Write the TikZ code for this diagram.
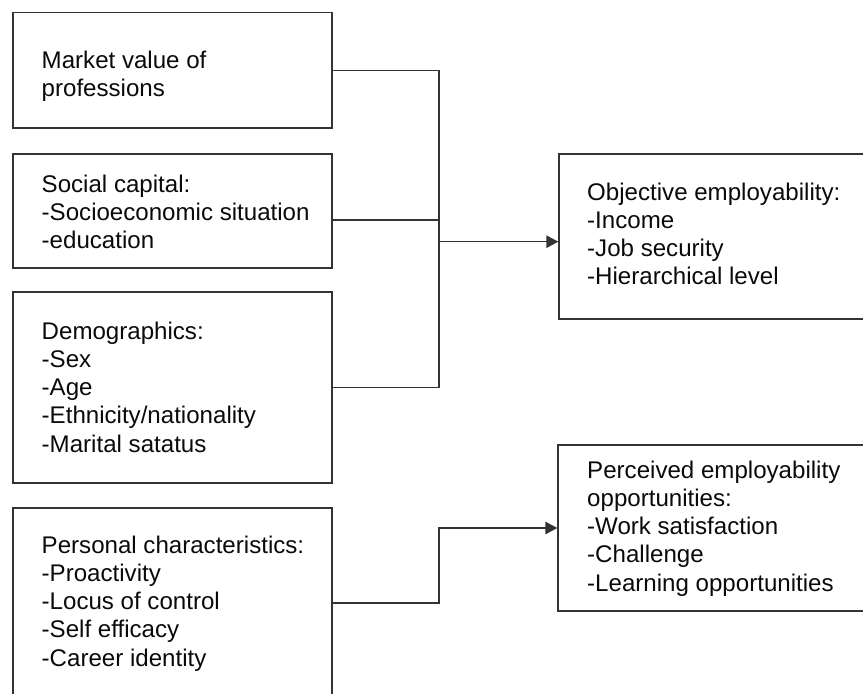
\documentclass[tikz,border=0pt]{standalone}
\usepackage{fontspec}
\setmainfont{Liberation Sans}
\usetikzlibrary{arrows.meta,calc}
\definecolor{linec}{HTML}{333333}
\definecolor{textc}{HTML}{0A0A0A}
\begin{document}
\begin{tikzpicture}[x=1pt,y=-1pt,
  box/.style={draw=linec,line width=1.4pt,rectangle,inner sep=0pt},
  txt/.style={anchor=west,align=left,inner sep=0pt,text=textc,
    font=\fontsize{24.1pt}{28.2pt}\selectfont},
  conn/.style={draw=linec,line width=1.4pt},
  arr/.style={conn,-{Triangle[length=12pt,width=12.5pt]}}]
\useasboundingbox (0,0) rectangle (863,694);
\clip (0,0) rectangle (863,694);
% boxes
\node[box,minimum width=319pt,minimum height=115.5pt] (b1) at (172.5,70.25) {};
\node[box,minimum width=319pt,minimum height=114pt] (b2) at (172.5,211) {};
\node[box,minimum width=319pt,minimum height=191pt] (b3) at (172.5,387.5) {};
\node[box,minimum width=319pt,minimum height=190pt] (b4) at (172.5,603) {};
\node[box,minimum width=341pt,minimum height=165pt] (r1) at (729.5,236.5) {};
\node[box,minimum width=342pt,minimum height=166pt] (r2) at (729,528) {};
% texts
\node[txt] (t1) at (41.5,76) {Market value of\\professions};
\node[txt] (t2) at (41.5,212) {Social capital:\\-Socioeconomic situation\\-education};
\node[txt] (t3) at (41.5,387) {Demographics:\\-Sex\\-Age\\-Ethnicity/nationality\\-Marital satatus};
\node[txt] (t4) at (41.5,603.5) {Personal characteristics:\\-Proactivity\\-Locus of control\\-Self efficacy\\-Career identity};
\node[txt] (t5) at (587,234) {Objective employability:\\-Income\\-Job security\\-Hierarchical level};
\node[txt] (t6) at (587,528.5) {Perceived employability\\opportunities:\\-Work satisfaction\\-Challenge\\-Learning opportunities};
% connectors
\coordinate (jx) at (439,0);
\coordinate (ja) at (439,241.7);
\draw[conn] (b1.east) -| (jx |- b3.east) -- (b3.east);
\draw[conn] ([yshift=-9pt]b2.east) -- ([yshift=-9pt]b2.east -| jx);
\draw[arr] (ja) -- (ja -| r1.west);
\draw[arr] (b4.east) -| (jx |- r2.west) -- (r2.west);
\end{tikzpicture}
\end{document}
